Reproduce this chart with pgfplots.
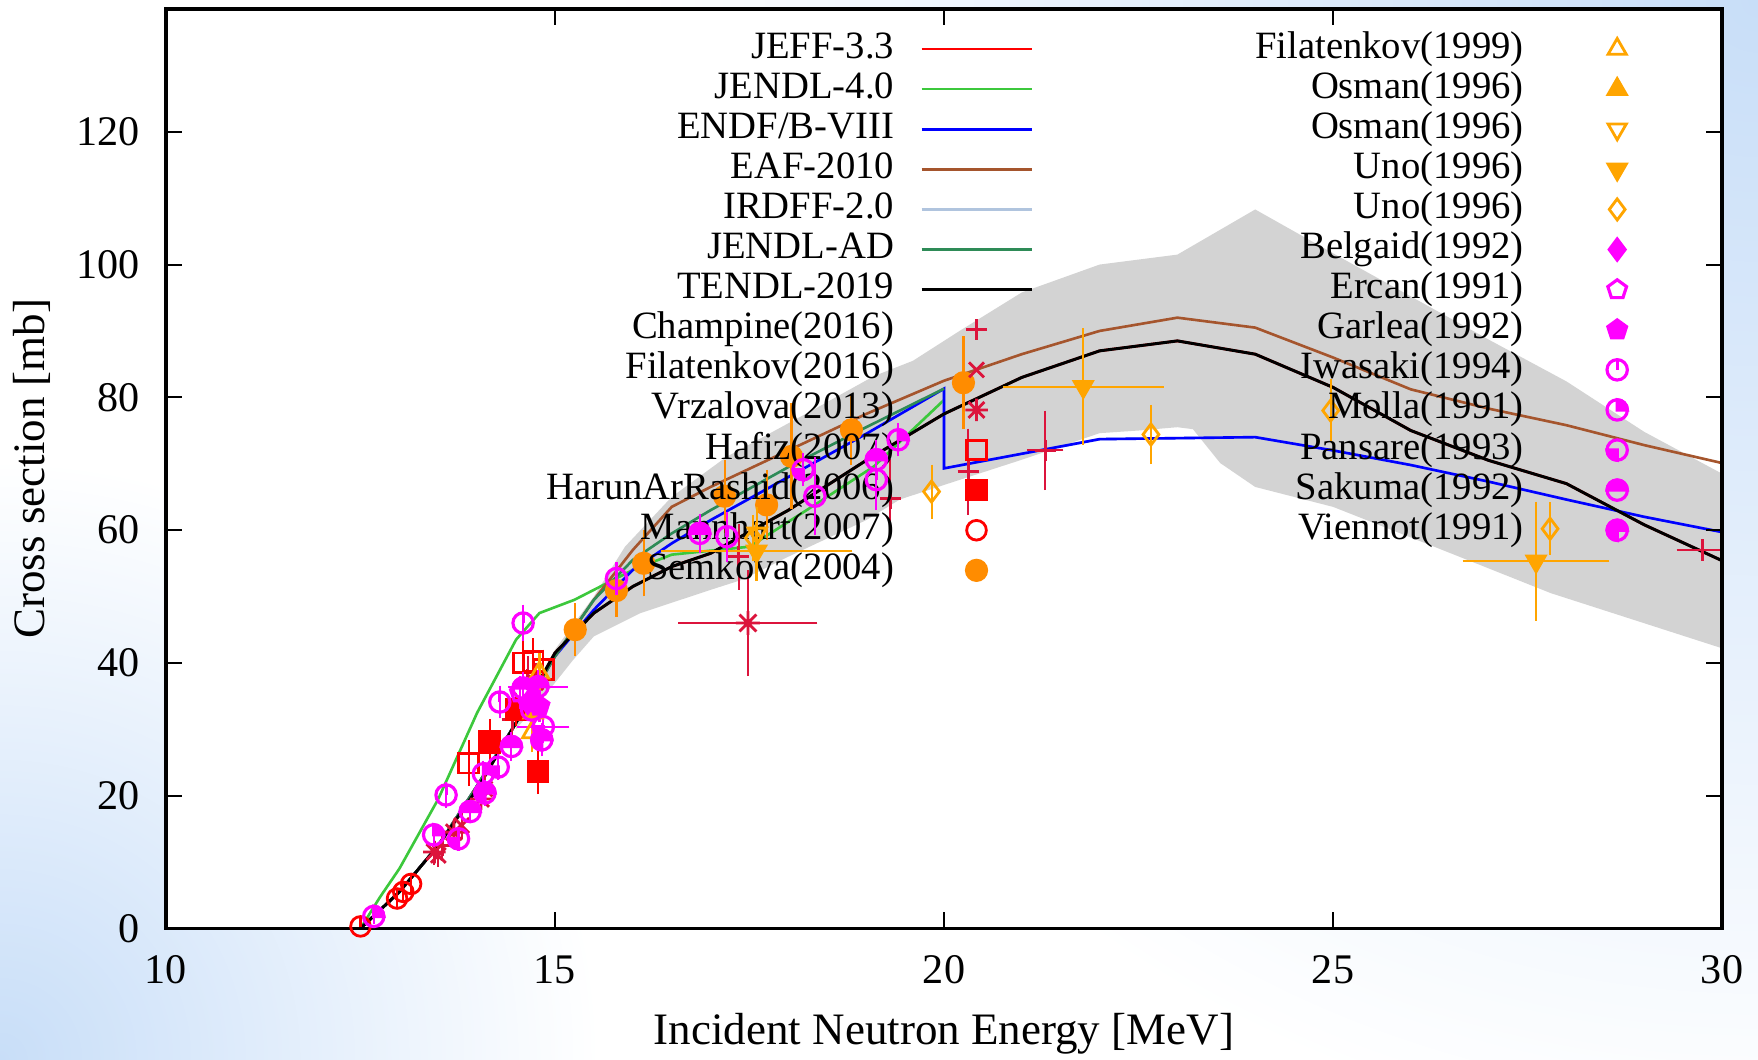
\documentclass[border=0pt]{standalone}
\usepackage{fontspec}
\setmainfont{Liberation Serif}
\usepackage{pgfplots}
\pgfplotsset{compat=1.18}
\usetikzlibrary{plotmarks}
\definecolor{jeff}{RGB}{255,0,0}
\definecolor{jendl}{RGB}{60,200,60}
\definecolor{endf}{RGB}{0,0,255}
\definecolor{eaf}{RGB}{165,85,45}
\definecolor{irdff}{RGB}{176,196,222}
\definecolor{jad}{RGB}{46,139,87}
\definecolor{crim}{RGB}{220,20,60}
\definecolor{dorng}{RGB}{255,140,0}
\definecolor{orng}{RGB}{255,165,0}
\definecolor{mag}{RGB}{255,0,255}
\definecolor{band}{RGB}{211,211,211}
\definecolor{bgblue}{RGB}{200,222,248}
\pgfdeclareplotmark{ast8}{%
  \pgfpathmoveto{\pgfqpoint{-\pgfplotmarksize}{0pt}}\pgfpathlineto{\pgfqpoint{\pgfplotmarksize}{0pt}}%
  \pgfpathmoveto{\pgfqpoint{0pt}{-\pgfplotmarksize}}\pgfpathlineto{\pgfqpoint{0pt}{\pgfplotmarksize}}%
  \pgfpathmoveto{\pgfqpoint{-.707\pgfplotmarksize}{-.707\pgfplotmarksize}}\pgfpathlineto{\pgfqpoint{.707\pgfplotmarksize}{.707\pgfplotmarksize}}%
  \pgfpathmoveto{\pgfqpoint{-.707\pgfplotmarksize}{.707\pgfplotmarksize}}\pgfpathlineto{\pgfqpoint{.707\pgfplotmarksize}{-.707\pgfplotmarksize}}%
  \pgfusepathqstroke}
\pgfdeclareplotmark{cLine}{%
  \pgfpathcircle{\pgfpointorigin}{\pgfplotmarksize}\pgfusepathqstroke
  \pgfpathmoveto{\pgfpointorigin}\pgfpathlineto{\pgfqpoint{0pt}{\pgfplotmarksize}}\pgfusepathqstroke}
\pgfdeclareplotmark{cTR}{%
  \pgfpathcircle{\pgfpointorigin}{\pgfplotmarksize}\pgfusepathqstroke
  \pgfpathmoveto{\pgfpointorigin}\pgfpathlineto{\pgfqpoint{\pgfplotmarksize}{0pt}}%
  \pgfpatharc{0}{90}{\pgfplotmarksize}\pgfpathclose\pgfusepathqfillstroke}
\pgfdeclareplotmark{cBL}{%
  \pgfpathcircle{\pgfpointorigin}{\pgfplotmarksize}\pgfusepathqstroke
  \pgfpathmoveto{\pgfpointorigin}\pgfpathlineto{\pgfqpoint{-\pgfplotmarksize}{0pt}}%
  \pgfpatharc{180}{270}{\pgfplotmarksize}\pgfpathclose\pgfusepathqfillstroke}
\pgfdeclareplotmark{cTop}{%
  \pgfpathcircle{\pgfpointorigin}{\pgfplotmarksize}\pgfusepathqstroke
  \pgfpathmoveto{\pgfqpoint{\pgfplotmarksize}{0pt}}%
  \pgfpatharc{0}{180}{\pgfplotmarksize}\pgfpathclose\pgfusepathqfillstroke}
\pgfdeclareplotmark{c3Q}{%
  \pgfpathcircle{\pgfpointorigin}{\pgfplotmarksize}\pgfusepathqstroke
  \pgfpathmoveto{\pgfpointorigin}\pgfpathlineto{\pgfqpoint{\pgfplotmarksize}{0pt}}%
  \pgfpatharc{0}{270}{\pgfplotmarksize}\pgfpathclose\pgfusepathqfillstroke}
\pgfplotsset{
  ln/.style={line width=0.75pt, mark=none, legend image code/.code={\draw[##1] (0mm,0mm) -- (11mm,0mm);}},
  mk/.style={only marks, line width=0.8pt, mark size=2.6pt,
    legend image code/.code={\path (0mm,0mm) (11mm,0mm);\draw[mark repeat=2,mark phase=2,##1] plot coordinates {(0mm,0mm) (5.5mm,0mm) (11mm,0mm)};}},
  mg/.style={mk, color=mag, line width=0.9pt, mark size=2.9pt},
  ebY/.style={error bars/y dir=both, error bars/y explicit,
    error bars/error bar style={line width=0.6pt},
    error bars/error mark options={line width=0.6pt, mark size=0.65mm}},
  ebXY/.style={ebY, error bars/x dir=both, error bars/x explicit},
  common/.style={scale only axis, width=155.6mm, height=91.94mm, at={(0,0)}, anchor=south west,
    xmin=10, xmax=30, ymin=0, ymax=138.5},
  lgd/.style={legend cell align=right, legend plot pos=right,
    legend style={draw=none, fill=none, inner sep=0pt, outer sep=0pt, row sep=0.01mm,
      font=\fontsize{11}{13}\selectfont, nodes={inner sep=0pt, text height=2.9mm, text depth=1.1mm}}},
}
\begin{document}
\begin{tikzpicture}
\path[use as bounding box] (-16.6mm,-13.1mm) rectangle (159.2mm,92.84mm);
\fill[white] (-16.6mm,-13.1mm) rectangle (159.2mm,92.84mm);
\begin{scope}
\clip (-16.6mm,-13.1mm) rectangle (159.2mm,92.84mm);
\shade[inner color=bgblue, outer color=white] (159.2mm,92.84mm) circle (115mm);
\shade[inner color=bgblue, outer color=white] (-16.6mm,-13.1mm) circle (60mm);
\end{scope}
\begin{axis}[common, lgd, axis on top,
  axis background/.style={fill=white},
  legend style={at={(axis cs:21.144,135.48)}, anchor=north east, column sep=2.6mm},
  xtick={10,15,20,25,30}, ytick={0,20,40,60,80,100,120},
  tick align=inside, major tick length=1.6mm, minor tick num=0,
  tick style={line width=0.6pt, black},
  axis line style={line width=0.9pt},
  /pgf/number format/assume math mode=true,
  ticklabel style={font=\fontsize{12}{14}\selectfont},
  xticklabel style={anchor=base, yshift=-5.5mm},
  yticklabel style={anchor=east, inner sep=0pt, xshift=-2.57mm},
  xlabel={Incident Neutron Energy [MeV]}, ylabel={Cross section [mb]},
  xlabel style={at={(axis description cs:0.5,0)}, anchor=base, yshift=-11.66mm, font=\fontsize{12.8}{15}\selectfont},
  ylabel style={at={(axis description cs:-0.0864,0.5)}, anchor=center, font=\fontsize{12.8}{15}\selectfont},
]
% uncertainty band
\addplot[fill=band, draw=none, forget plot] coordinates {
(14.5,31) (15,42) (15.5,50) (15.9,57.5) (16.5,65) (17.2,71) (18.3,78) (19.1,83.2) (19.6,85.5) (20.2,90) (21,95.8) (22,100) (23,101.5) (24,108.3) (25,101.7) (26,95.2) (27,88.7) (28,82.4) (29,74.8) (30,68.5)
(30,42.2) (27.8,50.5) (26.3,57.5) (25,63.5) (24,66.5) (23.55,70.1) (23.2,75.2) (23,75.5) (22.5,75) (22,74.6) (21,70.6) (20,66.8) (19.43,64.6) (19,61.5) (18,56) (17.4,52.5) (17,51) (16.1,47.5) (15.5,44) (15.23,40.4) (15,37) (14.5,30)
} -- cycle;
% evaluations
\addplot[ln, color=jeff] coordinates {(12.5,0) (13,5.5) (13.5,12.5) (14,21) (14.5,31) (15,41.5) (15.5,47.5) (16,51.5) (16.5,54.5) (17,56.5) (18,63) (19,70.5) (20,77.5) (21,83) (22,87) (23,88.5) (24,86.5) (25,81.5) (26,75) (27,70.5) (28,67) (29,60.8) (30,55.4)};
\addlegendentry{JEFF-3.3}
\addplot[ln, color=jendl] coordinates {(12.5,0) (12.75,4.7) (13,9) (13.5,19.5) (14,32.5) (14.5,43.5) (14.8,47.5) (15.25,49.5) (15.5,51) (16,54) (16.5,56.3) (17.5,57.5) (18.3,63.5) (19.1,69.6) (20,79.6)};
\addlegendentry{JENDL-4.0}
\addplot[ln, color=irdff, forget plot] coordinates {(12.5,0) (13,5.5) (13.5,12.5) (14,21.5) (14.5,31) (15,41) (15.5,48) (16,54) (16.5,58) (17,61.5) (18,68) (19,74.5) (20,81.3) (20,69.3) (21,71.5) (22,73.7) (24,74) (25,72) (26,69.8) (27,67.3) (28,64.6) (29,62) (30,59.7)};
\addplot[ln, color=endf] coordinates {(12.5,0) (13,5.5) (13.5,12.5) (14,21.5) (14.5,31) (15,41) (15.5,48) (16,54) (16.5,58) (17,61.5) (18,68) (19,74.5) (20,81.3) (20,69.3) (21,71.5) (22,73.7) (24,74) (25,72) (26,69.8) (27,67.3) (28,64.6) (29,62) (30,59.7)};
\addlegendentry{ENDF/B-VIII}
\addplot[ln, color=eaf] coordinates {(12.5,0) (13,5.5) (13.5,12.5) (14,21.5) (14.5,31) (15,41) (15.5,49.5) (16,57) (16.5,63.5) (17,66.5) (18,72) (19,77.5) (20,82.5) (21,86.5) (22,90) (23,92) (24,90.5) (25,86) (26,81.2) (27,78.3) (28,75.8) (29,72.8) (30,70.1)};
\addlegendentry{EAF-2010}
\addlegendimage{ln, color=irdff}
\addlegendentry{IRDFF-2.0}
\addplot[ln, color=jad] coordinates {(12.5,0) (13,5.5) (13.5,12.5) (14,21.5) (14.5,31) (15,41) (15.5,49.5) (16,55.5) (16.5,59.5) (17,63) (18,69.5) (19,75.5) (20,81.3)};
\addlegendentry{JENDL-AD}
\addplot[ln, color=black, line width=0.85pt] coordinates {(12.5,0) (13,5.5) (13.5,12.5) (14,21) (14.5,31) (15,41.5) (15.5,47.5) (16,51.5) (16.5,54.5) (17,56.5) (18,63) (19,70.5) (20,77.5) (21,83) (22,87) (23,88.5) (24,86.5) (25,81.5) (26,75) (27,70.5) (28,67) (29,60.8) (30,55.4)};
\addlegendentry{TENDL-2019}
% experiments
\addplot[mk, color=crim, mark=+, mark size=3pt, ebY] table[x=x,y=y,y error=ey] {
x y ey
13.55 12.5 1.0
14.45 31.5 2.0
14.65 37.5 2.5
17.36 56.0 4.0
19.31 64.8 5.0
20.31 68.8 5.5
};
\addlegendentry{Champine(2016)}
\addplot[mk, color=crim, mark=+, mark size=3pt, forget plot, ebXY] table[x=x,y=y,x error=ex,y error=ey] {
x y ex ey
21.3 72.0 0.15 5.0
29.75 57.0 0.25 0.4
};
\addplot[mk, color=crim, mark=x, mark size=3pt, ebY] table[x=x,y=y,y error=ey] {
x y ey
13.5 11.0 0.8
13.8 15.5 1.0
14.1 21.0 1.2
14.5 33.0 1.5
14.75 37.0 2.0
};
\addlegendentry{Filatenkov(2016)}
\addplot[mk, color=crim, mark=ast8, mark size=3.2pt, ebY] table[x=x,y=y,y error=ey] {
x y ey
13.45 11.5 1.0
13.7 14.5 1.0
14.05 19.5 1.2
};
\addlegendentry{Vrzalova(2013)}
\addplot[mk, color=crim, mark=ast8, mark size=3.4pt, forget plot, ebXY] table[x=x,y=y,x error=ex,y error=ey] {
x y ex ey
17.48 46.0 0.81 7.0
};
\addplot[mk, color=jeff, mark=square, mark size=2.8pt, ebY] table[x=x,y=y,y error=ey] {
x y ey
13.89 24.9 2.5
14.16 27.9 2.6
14.59 40.0 2.8
14.72 40.2 2.5
14.85 39.0 2.0
};
\addlegendentry{Hafiz(2007)}
\addplot[mk, color=jeff, mark=square*, mark size=2.8pt, ebY] table[x=x,y=y,y error=ey] {
x y ey
14.16 28.2 1.5
14.5 33.0 1.5
14.78 23.6 2.4
};
\addlegendentry{HarunArRashid(2006)}
\addplot[mk, color=jeff, mark=o, mark size=2.8pt, ebY] table[x=x,y=y,y error=ey] {
x y ey
12.5 0.3 0.3
12.97 4.5 0.3
13.05 5.5 0.3
13.15 6.7 0.4
};
\addlegendentry{Mannhart(2007)}
\addplot[mk, color=dorng, mark=*, mark size=2.9pt, ebY] table[x=x,y=y,y error=ey] {
x y ey
15.26 45.0 3.0
15.79 50.9 3.0
16.14 55.0 4.0
17.18 65.1 4.5
17.72 63.8 4.3
18.04 71.1 7.0
18.81 75.1 4.3
20.25 82.2 6.0
};
\addlegendentry{Semkova(2004)}
\end{axis}
\begin{axis}[common, lgd, hide axis,
  legend style={at={(axis cs:29.38,135.48)}, anchor=north east, column sep=3.7mm},
]
\addplot[mk, color=orng, mark=triangle, mark size=3pt, ebY] table[x=x,y=y,y error=ey] {
x y ey
14.7 29.5 2
14.8 38.5 2
};
\addlegendentry{Filatenkov(1999)}
\addplot[mk, color=orng, mark=triangle*, mark size=3pt, ebY] table[x=x,y=y,y error=ey] {
x y ey
14.72 32.5 2
};
\addlegendentry{Osman(1996)}
\addplot[mk, color=orng, mark=triangle, mark options={rotate=180}, mark size=3pt, ebY] table[x=x,y=y,y error=ey] {
x y ey
17.6 59.5 3
};
\addlegendentry{Osman(1996)}
\addplot[mk, color=orng, mark=triangle*, mark options={rotate=180}, mark size=3pt, ebXY] table[x=x,y=y,x error=ex,y error=ey] {
x y ex ey
17.59 56.8 1.15 3.5
21.79 81.6 0.95 7.8
27.61 55.3 0.86 8.0
};
\addlegendentry{Uno(1996)}
\addplot[mk, color=orng, mark=diamond, mark size=3pt, ebY] table[x=x,y=y,y error=ey] {
x y ey
17.55 58.8 2.5
19.84 65.8 3.1
22.66 74.4 3.5
24.97 78.0 3.8
27.79 60.2 3.0
};
\addlegendentry{Uno(1996)}
\addplot[mg, mark=diamond*, mark size=3pt, ebY] table[x=x,y=y,y error=ey] {
x y ey
14.65 34.0 1.5
};
\addlegendentry{Belgaid(1992)}
\addplot[mg, mark=pentagon, mark size=2.8pt, ebY] table[x=x,y=y,y error=ey] {
x y ey
14.55 35.5 1.5
};
\addlegendentry{Ercan(1991)}
\addplot[mg, mark=pentagon*, mark size=2.8pt, ebY] table[x=x,y=y,y error=ey] {
x y ey
14.8 33.5 1.5
};
\addlegendentry{Garlea(1992)}
\addplot[mg, mark=cLine, ebY] table[x=x,y=y,y error=ey] {
x y ey
14.59 46.0 1.8
13.6 20.1 1.0
14.29 34.1 1.5
15.79 52.7 1.5
17.21 59.0 2.8
18.34 65.1 4.9
19.13 67.6 3.6
};
\addlegendentry{Iwasaki(1994)}
\addplot[mg, mark=cTR, ebY] table[x=x,y=y,y error=ey] {
x y ey
12.67 1.8 0.2
13.44 14.1 0.8
14.08 23.3 1.0
14.7 32.9 1.5
19.41 73.6 1.5
};
\addlegendentry{Molla(1991)}
\addplot[mg, mark=cBL, ebY] table[x=x,y=y,y error=ey] {
x y ey
13.76 13.5 0.8
14.27 24.3 1.0
18.19 69.1 1.5
};
\addlegendentry{Pansare(1993)}
\addplot[mg, mark=cBL, forget plot, ebXY] table[x=x,y=y,x error=ex,y error=ey] {
x y ex ey
14.85 30.4 0.25 1.5
};
\addplot[mg, mark=cTop, ebY] table[x=x,y=y,y error=ey] {
x y ey
13.91 17.6 0.8
14.44 27.4 1.2
14.59 36.2 1.5
16.86 59.5 2.0
19.13 70.6 2.0
};
\addlegendentry{Sakuma(1992)}
\addplot[mg, mark=c3Q, ebY] table[x=x,y=y,y error=ey] {
x y ey
14.1 20.4 1.0
14.83 28.4 1.5
};
\addlegendentry{Viennot(1991)}
\addplot[mg, mark=c3Q, forget plot, ebXY] table[x=x,y=y,x error=ex,y error=ey] {
x y ex ey
14.78 36.4 0.3 1.5
};
\end{axis}
\end{tikzpicture}
\end{document}
